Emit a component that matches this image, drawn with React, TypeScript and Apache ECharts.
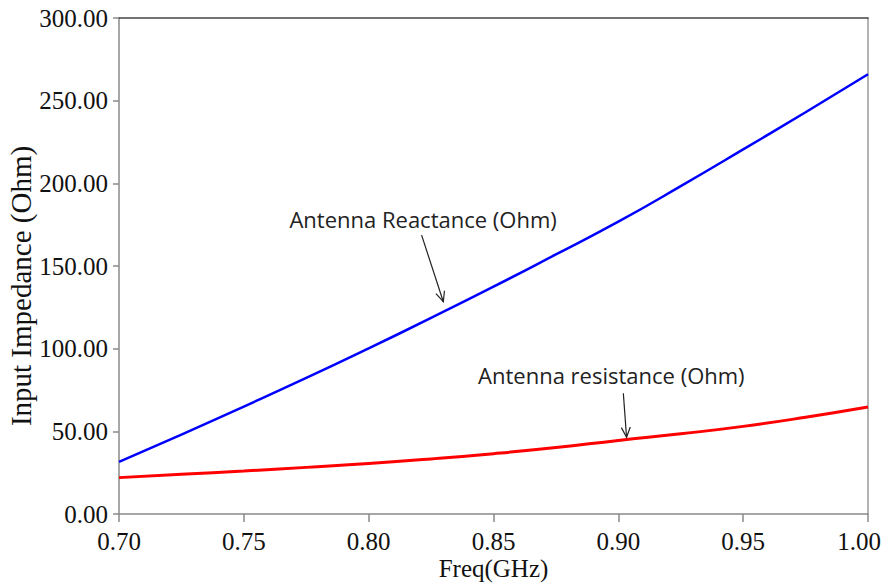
import React, { useEffect, useRef } from "react";
import * as echarts from "echarts";

const freqGHz = [0.7, 0.725, 0.75, 0.775, 0.8, 0.825, 0.85, 0.875, 0.9, 0.925, 0.95, 0.975, 1.0];
const reactanceOhm = [31.5, 48, 65, 82.3, 100.2, 118.6, 137.5, 157, 176.8, 198.3, 220.5, 243, 266];
const resistanceOhm = [22, 24, 26, 28.2, 30.5, 33.3, 36.5, 40.2, 44.5, 48.5, 53, 58.5, 64.7];
const xTicks = { min: 0.7, max: 1.0, interval: 0.05 };
const yTicks = { min: 0, max: 300, interval: 50 };

// annotation text and arrow anchors, in data coordinates [freq, ohm]
const annotationTexts = ["Antenna Reactance (Ohm)", "Antenna resistance (Ohm)"];
const annotationLabelAt = [[0.8218, 178.4], [0.8972, 84.1]];
const annotationArrowFrom = [[0.8212, 168.7], [0.902, 73.0]];
const annotationArrowTo = [[0.8299, 128.4], [0.9033, 46.4]];

const serif = "'Liberation Serif', 'Times New Roman', serif";

export default function App() {
  const ref = useRef<HTMLDivElement>(null);
  useEffect(() => {
    if (!ref.current) return;
    const chart = echarts.init(ref.current, null, { renderer: "svg" });
    const grid = { left: 119, right: 18, top: 18, bottom: 70 };
    chart.setOption({
      animation: false,
      backgroundColor: "#ffffff",
      grid: { ...grid, containLabel: false, outerBoundsMode: "none" },
      xAxis: [
        {
          type: "value",
          min: xTicks.min,
          max: xTicks.max,
          interval: xTicks.interval,
          name: "Freq(GHz)",
          nameLocation: "middle",
          nameGap: 42,
          nameMoveOverlap: false,
          nameTextStyle: { fontFamily: serif, fontSize: 25, color: "#111" },
          axisLine: { show: true, lineStyle: { color: "#8a8a8a", width: 1.5 } },
          axisTick: { show: true, length: 8, lineStyle: { color: "#8a8a8a", width: 1.5 } },
          axisLabel: {
            margin: 15,
            fontFamily: serif,
            fontSize: 25,
            color: "#111",
            formatter: (v: number) => (v >= xTicks.max - 1e-9 ? "{last|" + v.toFixed(2) + "}" : v.toFixed(2)),
            rich: {
              last: { fontFamily: serif, fontSize: 25, color: "#111", padding: [0, 18, 0, 0] },
            },
          },
          splitLine: { show: false },
        },
        {
          type: "value",
          position: "top",
          min: xTicks.min,
          max: xTicks.max,
          axisLine: { show: true, onZero: false, lineStyle: { color: "#444", width: 1.5 } },
          axisTick: { show: false },
          axisLabel: { show: false },
          splitLine: { show: false },
        },
      ],
      yAxis: [
        {
          type: "value",
          min: yTicks.min,
          max: yTicks.max,
          interval: yTicks.interval,
          name: "Input Impedance (Ohm)",
          nameLocation: "middle",
          nameGap: 84,
          nameMoveOverlap: false,
          nameTextStyle: { fontFamily: serif, fontSize: 29, color: "#111", padding: [0, 40, 0, 0] },
          axisLine: { show: true, lineStyle: { color: "#8a8a8a", width: 1.5 } },
          axisTick: { show: true, length: 6, lineStyle: { color: "#8a8a8a", width: 1.5 } },
          axisLabel: {
            margin: 11,
            fontFamily: serif,
            fontSize: 25,
            color: "#111",
            formatter: (v: number) => v.toFixed(2),
          },
          splitLine: { show: false },
        },
        {
          type: "value",
          position: "right",
          min: yTicks.min,
          max: yTicks.max,
          axisLine: { show: true, onZero: false, lineStyle: { color: "#9a9a9a", width: 1.5 } },
          axisTick: { show: false },
          axisLabel: { show: false },
          splitLine: { show: false },
        },
      ],
      series: [
        {
          name: "Antenna Reactance (Ohm)",
          type: "line",
          smooth: true,
          showSymbol: false,
          data: freqGHz.map((f, i) => [f, reactanceOhm[i]]),
          lineStyle: { color: "#0000ff", width: 2.5 },
          itemStyle: { color: "#0000ff" },
        },
        {
          name: "Antenna resistance (Ohm)",
          type: "line",
          smooth: true,
          showSymbol: false,
          data: freqGHz.map((f, i) => [f, resistanceOhm[i]]),
          lineStyle: { color: "#ff0000", width: 3 },
          itemStyle: { color: "#ff0000" },
        },
      ],
    });

    const toPx = (p: number[]) => chart.convertToPixel({ xAxisIndex: 0, yAxisIndex: 0 }, p) as number[];
    const graphics: any[] = [];
    annotationTexts.forEach((txt, i) => {
      const lp = toPx(annotationLabelAt[i]);
      const a = toPx(annotationArrowFrom[i]);
      const b = toPx(annotationArrowTo[i]);
      graphics.push({
        type: "text",
        x: lp[0],
        y: lp[1],
        style: {
          text: txt,
          fontFamily: "'Open Sans', 'Noto Sans', sans-serif",
          fontSize: 22,
          fill: "#222",
          align: "center",
          verticalAlign: "middle",
        },
        z: 10,
      });
      graphics.push({
        type: "line",
        shape: { x1: a[0], y1: a[1], x2: b[0], y2: b[1] },
        style: { stroke: "#222", lineWidth: 1.2 },
        z: 10,
      });
      const ang = Math.atan2(b[1] - a[1], b[0] - a[0]);
      const len = 11;
      const spread = (24 * Math.PI) / 180;
      const p1 = [b[0] - len * Math.cos(ang - spread), b[1] - len * Math.sin(ang - spread)];
      const p2 = [b[0] - len * Math.cos(ang + spread), b[1] - len * Math.sin(ang + spread)];
      graphics.push({
        type: "polyline",
        shape: { points: [p1, b, p2] },
        style: { stroke: "#222", lineWidth: 1.2, fill: null },
        z: 10,
      });
    });
    chart.setOption({ graphic: graphics });

    return () => chart.dispose();
  }, []);

  return <div ref={ref} style={{ width: 886, height: 584, position: "absolute", left: 0, top: 0 }} />;
}
